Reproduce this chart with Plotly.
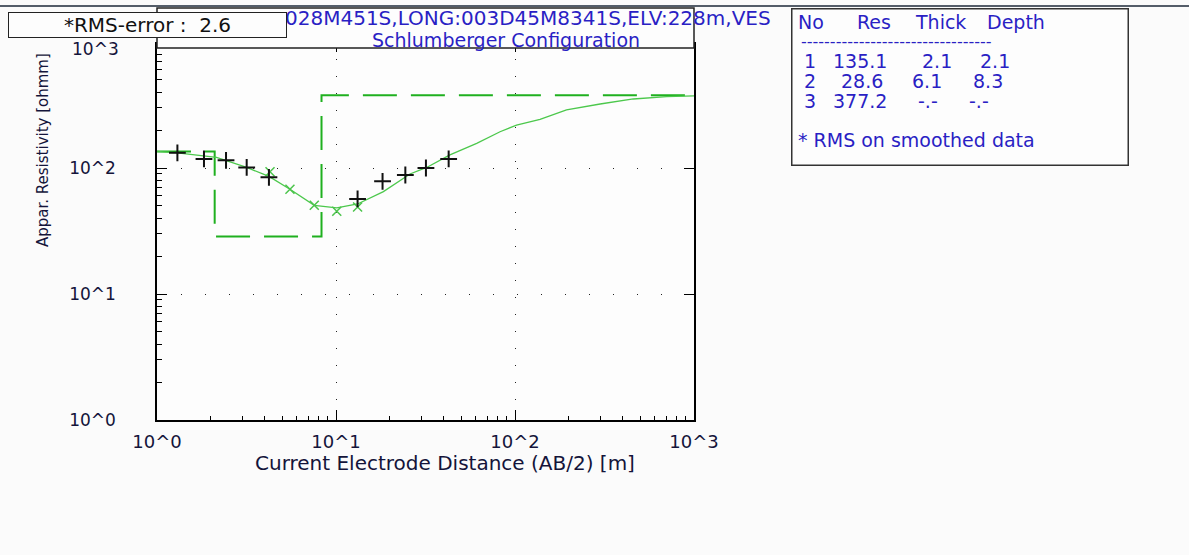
import plotly.graph_objects as go

# ---------------- data ----------------
obs_ab2 = [1.30, 1.83, 2.43, 3.17, 4.22, 13.2, 18.2, 24.4, 31.8, 42.6]
obs_rho = [132, 118, 115, 101, 84.4, 56.8, 78.4, 88, 100, 118]

smooth_ab2 = [4.28, 5.53, 7.56, 10.1, 13.2]
smooth_rho = [93.5, 67.8, 50.6, 45.3, 49.0]

calc_ab2 = [1.0, 1.30, 2.15, 3.17, 4.22, 5.53, 7.56, 8.87, 10.1, 13.2, 18.4, 25.9, 32.1,
            43.3, 61.1, 82.5, 102, 138, 194, 299, 458, 703, 1000]
calc_rho = [135.6, 132, 121.6, 101, 85.7, 67.8, 50.6, 49.3, 48.2, 51.8, 64.9, 89.6, 101,
            127, 157, 194, 219, 243, 289, 322, 353, 368, 373]

layer_no = ["1", "2", "3"]
layer_res = [135.1, 28.6, 377.2]
layer_thick = [2.1, 6.1, None]
layer_depth = [2.1, 8.3, None]

rms_error = 2.6
title_line1 = "028M451S,LONG:003D45M8341S,ELV:228m,VES"
title_line2 = "Schlumberger Configuration"
x_ticks = [1, 10, 100, 1000]
x_ticktext = ["10^0", "10^1", "10^2", "10^3"]
y_ticks = [1, 10, 100, 1000]
y_ticktext = ["10^0", "10^1", "10^2", "10^3"]

# model step line built from layer table
step_x, step_y = [1.0], [layer_res[0]]
for i, d in enumerate(layer_depth):
    if d is None:
        break
    step_x += [d, d]
    step_y += [layer_res[i], layer_res[i + 1]]
step_x.append(1000.0)
step_y.append(layer_res[-1])

# ---------------- layout helpers ----------------
W, H = 1189, 555
L, R, T, B = 157, 694, 42, 420
def px(x):
    return (x - L) / (R - L)
def py(y):
    return (B - y) / (B - T)

FONT = "DejaVu Sans"
AXC = "#14143a"
BLUE = "#2a1fc4"

fig = go.Figure()
fig.add_trace(go.Scatter(x=step_x, y=step_y, mode="lines",
                         line=dict(color="#1fb01f", width=2, dash="34px,14px"),
                         hoverinfo="skip", showlegend=False))
fig.add_trace(go.Scatter(x=calc_ab2, y=calc_rho, mode="lines",
                         line=dict(color="#4cc84c", width=1.3),
                         hoverinfo="skip", showlegend=False))
fig.add_trace(go.Scatter(x=smooth_ab2, y=smooth_rho, mode="markers",
                         marker=dict(symbol="x-thin", size=9, line=dict(color="#4cc44c", width=1.5)),
                         hoverinfo="skip", showlegend=False))
fig.add_trace(go.Scatter(x=obs_ab2, y=obs_rho, mode="markers",
                         marker=dict(symbol="cross-thin", size=12, line=dict(color="#111111", width=2)),
                         hoverinfo="skip", showlegend=False))
# helper trace for mirrored axes
fig.add_trace(go.Scatter(x=[10], y=[10], xaxis="x2", yaxis="y2", mode="markers",
                         marker=dict(opacity=0), hoverinfo="skip", showlegend=False))

# the top y label sits just under the RMS box, so it is drawn as an annotation
y_lab_vals = y_ticks[:-1]
y_lab_text = y_ticktext[:-1]

axis_common = dict(type="log", range=[0, 3], zeroline=False)
fig.update_layout(
    width=W, height=H,
    margin=dict(l=L, r=W - R, t=T, b=H - B, pad=0),
    paper_bgcolor="#fbfbfb", plot_bgcolor="#fdfdfd",
    showlegend=False,
    xaxis=dict(**axis_common, tickmode="array", tickvals=x_ticks, ticktext=x_ticktext,
               ticks="inside", ticklen=10, tickwidth=1, tickcolor="black",
               showline=True, linecolor="black", linewidth=1.5,
               showgrid=True, gridcolor="#222222", gridwidth=1, griddash="1px,16px",
               minor=dict(ticks="inside", ticklen=4, tickcolor="black", dtick="D1", showgrid=False),
               tickfont=dict(family=FONT, size=18, color=AXC), ticklabelstandoff=5),
    yaxis=dict(**axis_common, tickmode="array", tickvals=y_lab_vals, ticktext=y_lab_text,
               ticks="inside", ticklen=10, tickwidth=1, tickcolor="black",
               showline=True, linecolor="black", linewidth=1.5,
               showgrid=True, gridcolor="#222222", gridwidth=1, griddash="1px,23px",
               minor=dict(ticks="inside", ticklen=5, tickcolor="black", dtick="D1", showgrid=False),
               tickfont=dict(family=FONT, size=17, color=AXC), ticklabelstandoff=36),
    xaxis2=dict(**axis_common, overlaying="x", side="top", tickmode="array", tickvals=[10, 100],
                ticks="inside", ticklen=10, tickcolor="black", showticklabels=False,
                showgrid=False, showline=False),
    yaxis2=dict(**axis_common, overlaying="y", side="right", tickmode="array", tickvals=[10, 100],
                ticks="inside", ticklen=10, tickcolor="black", showticklabels=False,
                showgrid=False, showline=True, linecolor="black", linewidth=1.5),
)

shapes = [
    dict(type="line", xref="paper", yref="paper", x0=px(0), x1=px(W), y0=py(6), y1=py(6),
         line=dict(color="#1c2838", width=1.5), layer="above"),
    dict(type="rect", xref="paper", yref="paper", x0=px(157), x1=px(694), y0=py(48), y1=py(8),
         fillcolor="#fdfdfd", line=dict(color="#222222", width=1.5), layer="above"),
]
fig.update_layout(shapes=shapes)

ann = []
# top y tick label
ann.append(dict(xref="paper", yref="paper", x=px(120), y=py(38.5), xanchor="right", yanchor="top",
                text=y_ticktext[-1], showarrow=False, borderpad=0,
                font=dict(family=FONT, size=17, color=AXC)))
# title lines
ann.append(dict(xref="paper", yref="paper", x=px(283), y=py(18), xanchor="left", yanchor="middle",
                text=title_line1, showarrow=False, font=dict(family=FONT, size=20, color=BLUE)))
ann.append(dict(xref="paper", yref="paper", x=px(506), y=py(40), xanchor="center", yanchor="middle",
                text=title_line2, showarrow=False, font=dict(family=FONT, size=19, color=BLUE)))
# RMS box (covers title start)
ann.append(dict(xref="paper", yref="paper", x=px(8), y=py(12), xanchor="left", yanchor="top",
                text=f"*RMS-error :  {rms_error}", showarrow=False, width=275, height=22,
                align="center", bgcolor="#fdfdfd", bordercolor="#222222", borderwidth=1, borderpad=1,
                font=dict(family=FONT, size=20, color="#111111")))
# table box
ann.append(dict(xref="paper", yref="paper", x=px(791), y=py(8), xanchor="left", yanchor="top",
                text=" ", showarrow=False, width=333, height=153,
                bgcolor="#fdfdfd", bordercolor="#333333", borderwidth=1.5, borderpad=1,
                font=dict(family=FONT, size=12)))

TS = 19
def tcell(x, y, text, anchor="left", size=TS):
    ann.append(dict(xref="paper", yref="paper", x=px(x), y=py(y), xanchor=anchor, yanchor="middle",
                    text=text, showarrow=False, font=dict(family=FONT, size=size, color=BLUE)))

tcell(796, 22, "No")
tcell(855, 22, "Res")
tcell(913, 22, "Thick")
tcell(985, 22, "Depth")
tcell(799, 41, "-" * 33, size=16)
row_y = [61, 81, 101]
res_right = [889, 885, 889]
thick_c = [937, 927, 928]
depth_c = [995, 988, 979]
for i in range(len(layer_no)):
    yv = row_y[i]
    tcell(810, yv, layer_no[i], "center")
    tcell(res_right[i], yv, f"{layer_res[i]:.1f}", "right")
    th = "-.-" if layer_thick[i] is None else f"{layer_thick[i]:.1f}"
    de = "-.-" if layer_depth[i] is None else f"{layer_depth[i]:.1f}"
    tcell(thick_c[i], yv, th, "center")
    tcell(depth_c[i], yv, de, "center")
tcell(796, 140, "* RMS on smoothed data")

# axis titles
ann.append(dict(xref="paper", yref="paper", x=px(445), y=py(463), xanchor="center", yanchor="middle",
                text="Current Electrode Distance (AB/2) [m]", showarrow=False,
                font=dict(family=FONT, size=20, color=AXC)))
ann.append(dict(xref="paper", yref="paper", x=px(43), y=py(150), xanchor="center", yanchor="middle",
                text="Appar. Resistivity [ohmm]", showarrow=False, textangle=-90,
                font=dict(family=FONT, size=15, color=AXC)))
fig.update_layout(annotations=ann)

fig.write_html("out.html", config={"displayModeBar": False},
               post_script="document.body.style.margin='0';")
